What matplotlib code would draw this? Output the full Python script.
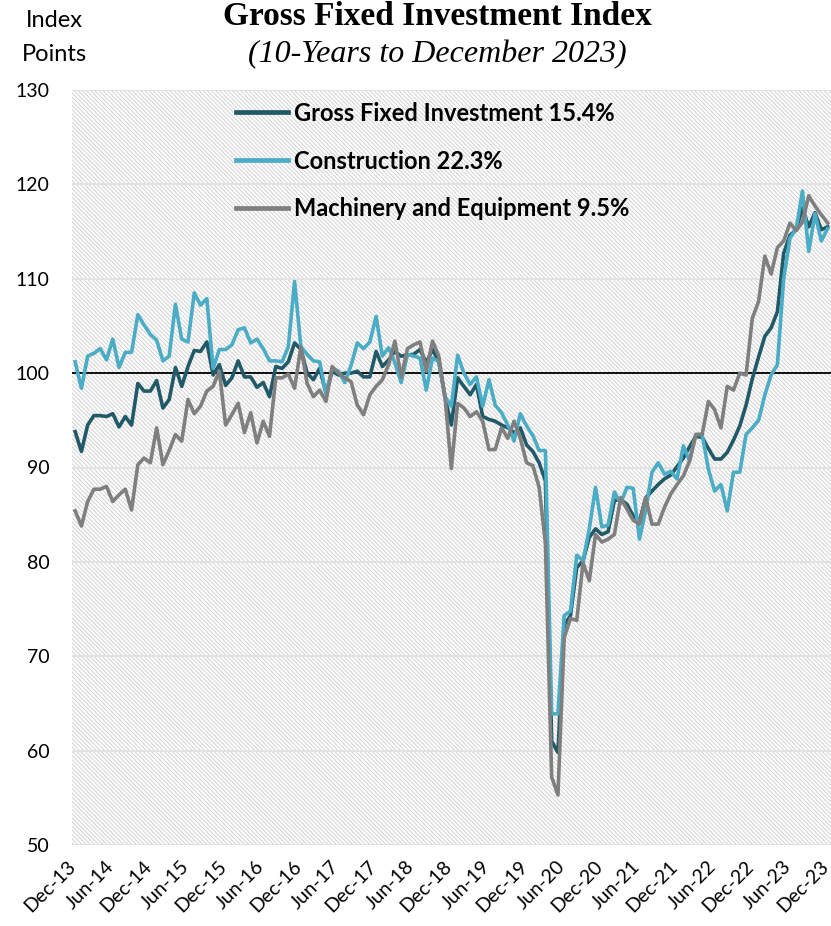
import matplotlib
matplotlib.use("Agg")
import matplotlib.pyplot as plt
import matplotlib.transforms as mtransforms
from matplotlib.patches import Rectangle

# ---- data (index points, monthly Dec-13 .. Dec-23) ----
gross_fixed = [
    93.8, 91.7, 94.5, 95.5, 95.5, 95.4, 95.7, 94.3, 95.4, 94.5, 98.9, 98.1,
    98.1, 99.2, 96.3, 97.2, 100.6, 98.6, 100.7, 102.4, 102.3, 103.3, 99.8, 100.9,
    98.7, 99.5, 101.3, 99.6, 99.6, 98.5, 99.0, 97.5, 100.7, 100.5, 101.2, 103.2,
    102.5, 100.0, 99.3, 100.5, 97.9, 100.2, 99.8, 100.0, 100.0, 100.2, 99.6, 99.6,
    102.3, 100.7, 101.4, 102.3, 101.8, 101.9, 102.0, 102.5, 101.1, 102.5, 101.2, 97.4,
    94.5, 99.5, 98.6, 97.7, 98.8, 95.4, 95.1, 94.9, 94.5, 94.2, 93.7, 94.2,
    92.4, 91.7, 90.5, 88.6, 61.0, 59.8, 73.3, 74.3, 79.4, 80.1, 82.6, 83.5,
    82.9, 83.2, 86.5, 86.6, 86.1, 84.9, 84.3, 86.8, 87.5, 88.2, 88.8, 89.2,
    90.1, 91.0, 92.2, 93.3, 93.2, 92.0, 90.9, 90.9, 91.6, 92.9, 94.4, 96.6,
    99.4, 101.7, 103.9, 104.8, 106.5, 112.7, 114.6, 115.2, 117.5, 115.5, 117.0, 115.2,
    115.5,
]
construction = [
    101.2, 98.4, 101.8, 102.1, 102.6, 101.4, 103.6, 100.6, 102.2, 102.2, 106.2, 105.1,
    104.1, 103.5, 101.3, 101.8, 107.3, 103.6, 103.3, 108.5, 107.2, 107.9, 100.5, 102.5,
    102.5, 103.0, 104.6, 104.8, 103.2, 103.6, 102.6, 101.3, 101.3, 101.2, 102.8, 109.7,
    102.8, 102.0, 101.3, 101.2, 97.8, 100.5, 100.2, 99.0, 100.8, 103.2, 102.6, 103.3,
    106.0, 101.8, 102.7, 101.1, 99.0, 102.0, 101.8, 101.6, 98.2, 101.6, 101.2, 97.5,
    96.5, 101.9, 100.0, 98.8, 99.6, 96.5, 99.3, 96.6, 95.8, 94.5, 92.8, 95.7,
    94.4, 93.4, 91.8, 91.8, 63.9, 63.9, 74.3, 74.8, 80.7, 80.1, 83.5, 87.9,
    83.7, 83.9, 87.4, 86.2, 87.9, 87.8, 82.4, 85.5, 89.5, 90.5, 89.3, 89.6,
    88.8, 92.3, 90.7, 93.5, 93.5, 89.8, 87.5, 88.2, 85.4, 89.5, 89.5, 93.5,
    94.2, 95.0, 97.7, 99.8, 100.9, 110.0, 114.3, 115.3, 119.3, 112.9, 116.9, 114.0,
    115.3,
]
machinery = [
    85.4, 83.8, 86.4, 87.7, 87.7, 88.0, 86.4, 87.1, 87.7, 85.5, 90.3, 91.0,
    90.5, 94.2, 90.3, 91.8, 93.5, 92.8, 97.2, 95.7, 96.5, 98.1, 98.6, 100.2,
    94.5, 95.6, 96.8, 93.7, 95.8, 92.6, 94.9, 93.3, 99.5, 99.5, 99.9, 98.4,
    102.8, 98.9, 97.5, 98.2, 97.0, 100.7, 100.0, 99.5, 99.1, 96.6, 95.6, 97.7,
    98.6, 99.3, 100.9, 103.4, 99.6, 102.6, 103.0, 103.3, 100.2, 103.4, 101.8, 97.4,
    89.9, 96.8, 96.3, 95.4, 95.9, 94.9, 91.9, 91.9, 94.2, 93.1, 94.9, 93.1,
    90.5, 90.2, 87.9, 82.0, 57.2, 55.3, 72.0, 74.0, 73.8, 79.9, 78.0, 82.9,
    82.1, 82.4, 82.9, 86.8, 85.6, 84.4, 84.0, 86.8, 84.0, 84.0, 85.8, 87.2,
    88.2, 89.1, 90.7, 93.5, 93.5, 97.0, 96.1, 94.2, 98.6, 98.2, 100.0, 99.8,
    105.8, 107.6, 112.4, 110.5, 113.3, 114.0, 115.9, 115.1, 116.0, 118.8, 117.7, 116.8,
    115.9,
]
series_labels = ["Gross Fixed Investment 15.4%", "Construction 22.3%",
                 "Machinery and Equipment 9.5%"]
tick_labels = ["Dec-13", "Jun-14", "Dec-14", "Jun-15", "Dec-15", "Jun-16", "Dec-16",
               "Jun-17", "Dec-17", "Jun-18", "Dec-18", "Jun-19", "Dec-19", "Jun-20",
               "Dec-20", "Jun-21", "Dec-21", "Jun-22", "Dec-22", "Jun-23", "Dec-23"]

DARK_TEAL = "#215968"
AQUA = "#4bacc6"
GREY = "#7f7f7f"

plt.rcParams["font.family"] = ["Lato", "DejaVu Sans"]
plt.rcParams["hatch.color"] = "#d2d2d2"
plt.rcParams["hatch.linewidth"] = 0.7

fig = plt.figure(figsize=(8.31, 9.26), dpi=100)
ax = fig.add_axes([72 / 831, 1 - 845 / 926, 759 / 831, 755 / 926])

x = list(range(len(gross_fixed)))

# hatched plot background (wide downward diagonal)
ax.add_patch(Rectangle((0, 0), 1, 1, transform=ax.transAxes, facecolor="white",
                       edgecolor="#d2d2d2", lw=0, hatch="\\" * 8, zorder=0))

for v in range(50, 131, 10):
    ax.axhline(v, color="#e2e2e2", lw=1.4, zorder=1)
ax.axhline(100, color="black", lw=1.3, zorder=2)

ax.plot(x, gross_fixed, color=DARK_TEAL, lw=2.6, label=series_labels[0], zorder=3)
ax.plot(x, construction, color=AQUA, lw=2.6, label=series_labels[1], zorder=4)
ax.plot(x, machinery, color=GREY, lw=2.6, label=series_labels[2], zorder=5)

ax.set_xlim(-0.5, 120.55)
ax.set_ylim(50, 130)
ax.set_yticks(range(50, 131, 10))
ax.set_xticks(range(0, 121, 6))
ax.set_xticklabels(tick_labels, rotation=45, ha="right", rotation_mode="anchor")
ax.tick_params(axis="both", length=0, labelsize=14, colors="black")
ax.tick_params(axis="y", pad=16)
ax.tick_params(axis="x", pad=9)
shift = mtransforms.ScaledTranslation(-8 / 100, 0, fig.dpi_scale_trans)
for lab in ax.get_xticklabels():
    lab.set_transform(lab.get_transform() + shift)
for s in ax.spines.values():
    s.set_visible(False)

leg = ax.legend(loc="upper left", bbox_to_anchor=(0.204, 0.997), frameon=False,
                prop={"weight": "bold", "size": 17}, handlelength=2.2,
                handletextpad=0.25, labelspacing=1.05, borderaxespad=0)
for line in leg.get_lines():
    line.set_linewidth(3.4)

fig.text(0.526, 1 - 25 / 926, "Gross Fixed Investment Index", ha="center",
         va="baseline", fontsize=24, fontweight="bold", family="Liberation Serif")
fig.text(0.526, 1 - 62 / 926, "(10-Years to December 2023)", ha="center",
         va="baseline", fontsize=23, style="italic", family="Liberation Serif")
fig.text(54 / 831, 1 - 27 / 926, "Index", ha="center", va="baseline", fontsize=17)
fig.text(54 / 831, 1 - 61 / 926, "Points", ha="center", va="baseline", fontsize=17)

fig.savefig("out.png", dpi=100, facecolor="white")
